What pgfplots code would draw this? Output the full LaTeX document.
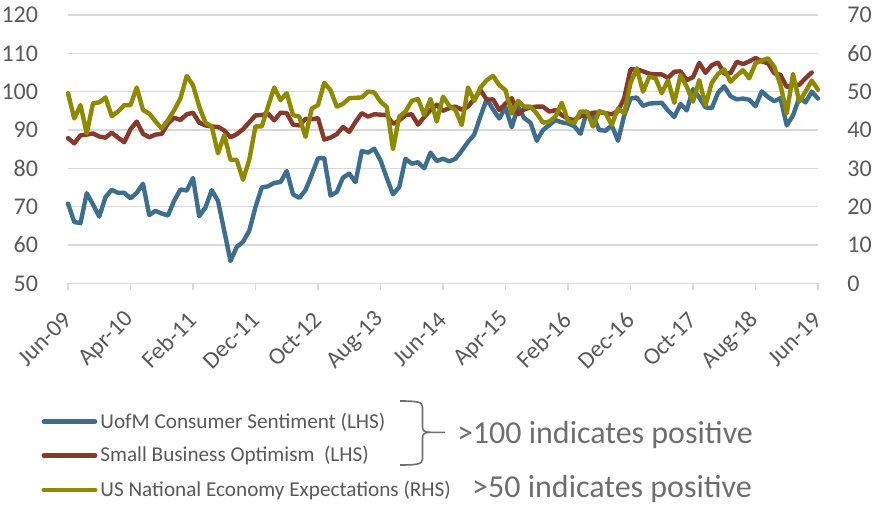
\documentclass[border=0pt]{standalone}
\usepackage{pgfplots}
\pgfplotsset{compat=1.18}
\usepackage{fontspec}
\setmainfont{Carlito}

\definecolor{sentblue}{HTML}{3D6E8E}
\definecolor{nfibred}{HTML}{873A2C}
\definecolor{expolive}{HTML}{8E8A00}
\definecolor{txtgray}{HTML}{595959}
\definecolor{notegray}{HTML}{6E6E6E}
\definecolor{gridgray}{HTML}{D9D9D9}

\pgfplotsset{
  base/.style={
    scale only axis, width=375pt, height=134.15pt,
    at={(0,0)}, anchor=south west,
    xmin=0, xmax=120, clip=false,
    /pgf/number format/assume math mode=true,
    ticklabel style={font=\fontsize{12}{14}\selectfont, text=txtgray},
    ytick style={draw=none},
    y axis line style={draw=none},
  },
  series/.style={line width=2.2pt, line join=round, line cap=round},
}

\begin{document}
\begin{tikzpicture}[x=1pt,y=1pt]
\path[use as bounding box] (-34,-110.85) rectangle (402,141.65);

% left axis: consumer sentiment and small business optimism
\begin{axis}[base,
    ymin=50, ymax=120, ytick={50,60,...,120},
    axis x line*=bottom, axis y line*=left,
    x axis line style={gridgray, line width=0.75pt},
    xtick={0,10,...,120},
    xticklabels={Jun-09,Apr-10,Feb-11,Dec-11,Oct-12,Aug-13,Jun-14,Apr-15,Feb-16,Dec-16,Oct-17,Aug-18,Jun-19},
    xtick style={gridgray, line width=0.75pt},
    tick align=outside, major tick length=3.3pt,
    xticklabel style={yshift=-13pt, rotate=45, anchor=east, inner sep=0pt},
    yticklabel style={anchor=east, inner sep=0pt, xshift=-11.5pt},
    ymajorgrids, grid style={gridgray, line width=0.75pt},
]
\addplot[series, sentblue] coordinates {
(0,70.8) (1,66.0) (2,65.7) (3,73.5) (4,70.6) (5,67.4) (6,72.5) (7,74.4) (8,73.6) (9,73.6)
(10,72.2) (11,73.6) (12,76.0) (13,67.8) (14,68.9) (15,68.2) (16,67.7) (17,71.6) (18,74.5) (19,74.2)
(20,77.5) (21,67.5) (22,69.8) (23,74.3) (24,71.5) (25,63.7) (26,55.8) (27,59.5) (28,60.8) (29,63.7)
(30,69.9) (31,75.0) (32,75.3) (33,76.2) (34,76.4) (35,79.3) (36,73.2) (37,72.3) (38,74.3) (39,78.3)
(40,82.6) (41,82.7) (42,72.9) (43,73.8) (44,77.6) (45,78.6) (46,76.4) (47,84.5) (48,84.1) (49,85.1)
(50,82.1) (51,77.5) (52,73.2) (53,75.1) (54,82.5) (55,81.2) (56,81.6) (57,80.0) (58,84.1) (59,81.9)
(60,82.5) (61,81.8) (62,82.5) (63,84.6) (64,86.9) (65,88.8) (66,93.6) (67,98.1) (68,95.4) (69,93.0)
(70,95.9) (71,90.7) (72,96.1) (73,93.1) (74,91.9) (75,87.2) (76,90.0) (77,91.3) (78,92.6) (79,92.0)
(80,91.7) (81,91.0) (82,89.0) (83,94.7) (84,93.5) (85,90.0) (86,89.8) (87,91.2) (88,87.2) (89,93.8)
(90,98.2) (91,98.5) (92,96.3) (93,96.9) (94,97.0) (95,97.1) (96,95.1) (97,93.4) (98,96.8) (99,95.1)
(100,100.7) (101,98.5) (102,95.9) (103,95.7) (104,99.7) (105,101.4) (106,98.8) (107,98.0) (108,98.2) (109,97.9)
(110,96.2) (111,100.1) (112,98.6) (113,97.5) (114,98.3) (115,91.2) (116,93.8) (117,98.4) (118,97.2) (119,100.0)
(120,98.2)
};
\addplot[series, nfibred] coordinates {
(0,87.9) (1,86.5) (2,88.6) (3,88.8) (4,89.1) (5,88.3) (6,88.0) (7,89.3) (8,88.0) (9,86.8)
(10,90.2) (11,92.2) (12,89.0) (13,88.1) (14,88.8) (15,89.0) (16,91.7) (17,93.2) (18,92.6) (19,94.1)
(20,94.5) (21,91.9) (22,91.2) (23,90.9) (24,90.8) (25,89.9) (26,88.1) (27,88.9) (28,90.2) (29,92.0)
(30,93.8) (31,93.9) (32,94.3) (33,92.5) (34,94.5) (35,94.4) (36,91.4) (37,91.2) (38,92.9) (39,92.8)
(40,93.1) (41,87.5) (42,88.0) (43,88.9) (44,90.8) (45,89.5) (46,92.1) (47,94.4) (48,93.5) (49,94.1)
(50,94.0) (51,93.9) (52,91.6) (53,92.5) (54,93.9) (55,94.1) (56,91.4) (57,93.4) (58,95.2) (59,96.6)
(60,95.0) (61,95.7) (62,96.1) (63,95.3) (64,96.1) (65,98.1) (66,100.4) (67,97.9) (68,98.0) (69,95.2)
(70,96.9) (71,98.3) (72,94.1) (73,95.4) (74,95.9) (75,96.1) (76,96.1) (77,94.8) (78,95.2) (79,93.9)
(80,92.9) (81,92.6) (82,93.6) (83,93.8) (84,94.5) (85,94.6) (86,94.4) (87,94.1) (88,94.9) (89,98.4)
(90,105.8) (91,105.9) (92,105.3) (93,104.7) (94,104.5) (95,104.5) (96,103.6) (97,105.2) (98,105.3) (99,103.0)
(100,103.8) (101,107.5) (102,104.9) (103,106.9) (104,107.6) (105,104.7) (106,104.8) (107,107.8) (108,107.2) (109,107.9)
(110,108.8) (111,107.9) (112,107.4) (113,104.8) (114,104.4) (115,101.2) (116,101.7) (117,101.8) (118,103.5) (119,105.0)
};
\end{axis}

% right axis: national economy expectations
\begin{axis}[base,
    ymin=0, ymax=70, ytick={0,10,...,70},
    axis x line=none, axis y line*=right,
    yticklabel style={anchor=west, inner sep=0pt, xshift=14.5pt},
]
\addplot[series, expolive] coordinates {
(0,49.6) (1,43.0) (2,46.5) (3,39.1) (4,47.0) (5,47.2) (6,48.5) (7,43.6) (8,44.8) (9,46.5)
(10,46.5) (11,51.1) (12,45.2) (13,44.3) (14,42.2) (15,40.4) (16,42.6) (17,45.2) (18,48.3) (19,54.1)
(20,51.7) (21,46.1) (22,41.9) (23,40.9) (24,33.9) (25,38.7) (26,32.2) (27,32.2) (28,27.0) (29,32.2)
(30,41.0) (31,40.9) (32,46.1) (33,51.1) (34,47.8) (35,49.6) (36,43.9) (37,43.5) (38,38.2) (39,45.6)
(40,46.5) (41,52.3) (42,50.4) (43,46.1) (44,46.8) (45,48.3) (46,48.4) (47,48.5) (48,50.0) (49,49.8)
(50,47.4) (51,46.0) (52,35.0) (53,43.5) (54,44.8) (55,47.6) (56,48.1) (57,43.9) (58,48.1) (59,42.2)
(60,48.7) (61,46.3) (62,45.2) (63,41.3) (64,51.1) (65,47.6) (66,51.1) (67,53.0) (68,54.1) (69,51.7)
(70,50.4) (71,44.3) (72,47.6) (73,46.1) (74,46.1) (75,44.3) (76,41.9) (77,42.2) (78,43.5) (79,47.1)
(80,42.4) (81,41.8) (82,44.8) (83,44.8) (84,40.9) (85,44.9) (86,44.4) (87,41.3) (88,45.6) (89,44.4)
(90,52.2) (91,56.1) (92,50.0) (93,53.9) (94,53.5) (95,49.6) (96,53.0) (97,47.1) (98,54.3) (99,51.3)
(100,47.4) (101,53.0) (102,46.5) (103,52.3) (104,54.6) (105,55.8) (106,52.6) (107,54.2) (108,55.6) (109,53.5)
(110,57.4) (111,58.1) (112,58.7) (113,56.5) (114,51.7) (115,44.3) (116,54.6) (117,47.4) (118,50.0) (119,52.9)
(120,50.5)
};
\end{axis}

% legend and notes
\begin{scope}[font=\fontsize{10.6}{12}\selectfont, text=txtgray]
\draw[sentblue, line width=2.4pt, line cap=round] (-12,-69.2) -- (13.5,-69.2);
\node[anchor=base west, inner sep=0pt] at (16,-72.5) {UofM Consumer Sentiment (LHS)};
\draw[nfibred, line width=2.4pt, line cap=round] (-12,-86.2) -- (13.5,-86.2);
\node[anchor=base west, inner sep=0pt] at (16,-89.2) {Small Business Optimism\ \ (LHS)};
\draw[expolive, line width=2.4pt, line cap=round] (-12,-103.35) -- (13.5,-103.35);
\node[anchor=base west, inner sep=0pt] at (16,-106.35) {US National Economy Expectations (RHS)};
\end{scope}
% brace
\draw[notegray, line width=0.8pt, line join=round]
  (166,-58.85) .. controls (175,-58.85) and (177.25,-59.3) .. (177.25,-62)
  -- (177.25,-71.8) .. controls (177.25,-73.8) and (178.5,-74.5) .. (181,-74.5)
  -- (188.5,-74.5);
\draw[notegray, line width=0.8pt, line join=round]
  (166,-90.85) .. controls (175,-90.85) and (177.25,-90.4) .. (177.25,-87.7)
  -- (177.25,-77.2) .. controls (177.25,-75.2) and (178.5,-74.5) .. (181,-74.5);
\begin{scope}[font=\fontsize{16}{19}\selectfont, text=notegray]
\node[anchor=base west, inner sep=0pt] at (194.3,-79.85) {>100 indicates positive};
\node[anchor=base west, inner sep=0pt] at (201.9,-106.85) {>50 indicates positive};
\end{scope}
\end{tikzpicture}
\end{document}
